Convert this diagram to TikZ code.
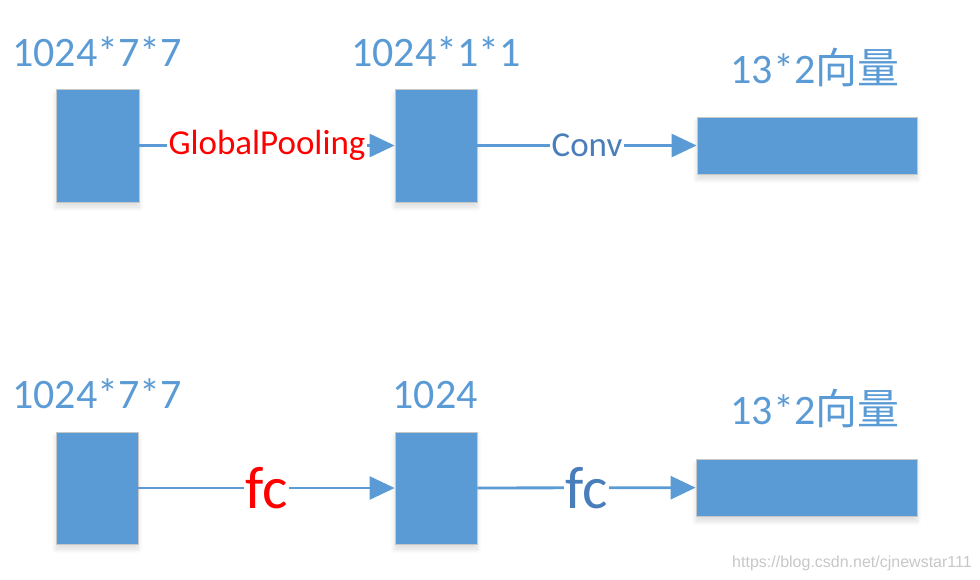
\documentclass[tikz,border=0pt]{standalone}
\usepackage{fontspec}
\setmainfont{Carlito}
\newfontfamily\cjk{Noto Sans CJK SC}
\newfontfamily\wmfont{Liberation Sans}
\usetikzlibrary{arrows.meta,shadows.blur}
\definecolor{boxblue}{HTML}{5B9BD5}
\definecolor{lblblue}{HTML}{5B9BD5}
\definecolor{opblue}{HTML}{4A7EBB}
\definecolor{opred}{HTML}{FF0000}
\tikzset{
  blockbox/.style={draw=black!22, line width=0.8pt, fill=boxblue, inner sep=0pt,
    blur shadow={shadow xshift=0pt, shadow yshift=-5pt, shadow blur steps=8, shadow blur radius=5pt, shadow opacity=14}},
  dimlabel/.style={text=lblblue, anchor=base, inner sep=0pt, font=\fontsize{42}{48}\selectfont},
  arr/.style={draw=boxblue, line width=2.8pt, -{Triangle[length=25pt,width=23pt]}},
  oplabel/.style={fill=white, inner sep=1.5pt, font=\fontsize{35}{40}\selectfont},
  fclabel/.style={fill=white, inner sep=1.5pt, font=\fontsize{60}{66}\selectfont}
}
\begin{document}
\begin{tikzpicture}[x=1pt,y=-1pt]
\useasboundingbox (0,0) rectangle (980,579);
% top row
\node[blockbox, minimum width=83pt, minimum height=113pt] (t1) at (97.5,145.5) {};
\node[blockbox, minimum width=82pt, minimum height=113pt] (t2) at (436,145.5) {};
\node[blockbox, minimum width=220pt, minimum height=57pt] (t3) at (807,145.5) {};
\node[dimlabel] (lt1) at (97,66) {1024*7*7};
\node[dimlabel] (lt2) at (436,66) {1024*1*1};
\node[dimlabel] (lt3) at (815,83) {13*2{\cjk 向量}};
\draw[arr] (t1) -- node[oplabel, text=opred] (gp) {GlobalPooling} (t2);
\draw[arr] (t2) -- node[oplabel, text=opblue] (cv) {Conv} (t3);
% bottom row
\node[blockbox, minimum width=82pt, minimum height=112pt] (b1) at (97,488) {};
\node[blockbox, minimum width=82pt, minimum height=112pt] (b2) at (436,488) {};
\node[blockbox, minimum width=221pt, minimum height=57pt] (b3) at (806.5,487.5) {};
\node[dimlabel] (lb1) at (97,408) {1024*7*7};
\node[dimlabel] (lb2) at (435,408) {1024};
\node[dimlabel] (lb3) at (815,424) {13*2{\cjk 向量}};
\draw[arr] (b1) -- node[fclabel, text=opred] (fc1) {fc} (b2);
\draw[arr] (b2) -- node[fclabel, text=opblue] (fc2) {fc} (b3);
% watermark
\node[anchor=base, inner sep=0pt, text=black!22, font=\wmfont\fontsize{16}{18}\selectfont] (wm) at (852,567) {https://blog.csdn.net/cjnewstar111};
\end{tikzpicture}
\end{document}
